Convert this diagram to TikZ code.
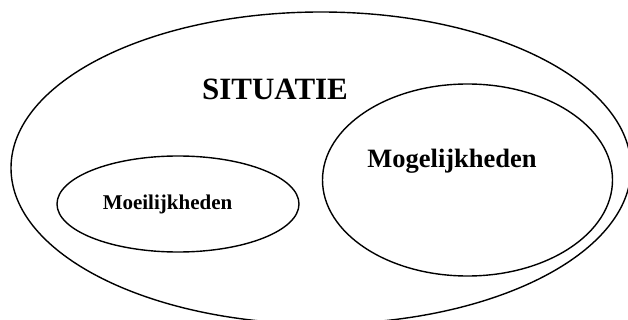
\documentclass[tikz,border=0pt]{standalone}
\usepackage{fontspec}
\setmainfont{Liberation Serif}
\usetikzlibrary{shapes.geometric}
\begin{document}
\begin{tikzpicture}[x=1pt,y=-1pt,
  region/.style={draw=black, line width=1.4pt, ellipse, inner sep=0pt, fill=none},
  caption/.style={font=\bfseries, anchor=base, inner sep=0pt}]
  \useasboundingbox (0,0) rectangle (628,320);
  \clip (0,0) rectangle (628,320);
  % outer situation
  \node[region, minimum width=620pt, minimum height=312pt] (situatie) at (321,168) {};
  % possibilities (right)
  \node[region, minimum width=290pt, minimum height=192pt] (mogelijk) at (467.5,180) {};
  % difficulties (left)
  \node[region, minimum width=242pt, minimum height=96pt] (moeilijk) at (178,204) {};
  % captions
  \node[caption, font=\fontsize{31}{36}\selectfont\bfseries] (tsituatie) at (275,99.5) {SITUATIE};
  \node[caption, font=\fontsize{26.5}{30}\selectfont\bfseries] (tmogelijk) at (452,168) {Mogelijkheden};
  \node[caption, font=\fontsize{21}{24}\selectfont\bfseries] (tmoeilijk) at (167.5,210) {Moeilijkheden};
\end{tikzpicture}
\end{document}
